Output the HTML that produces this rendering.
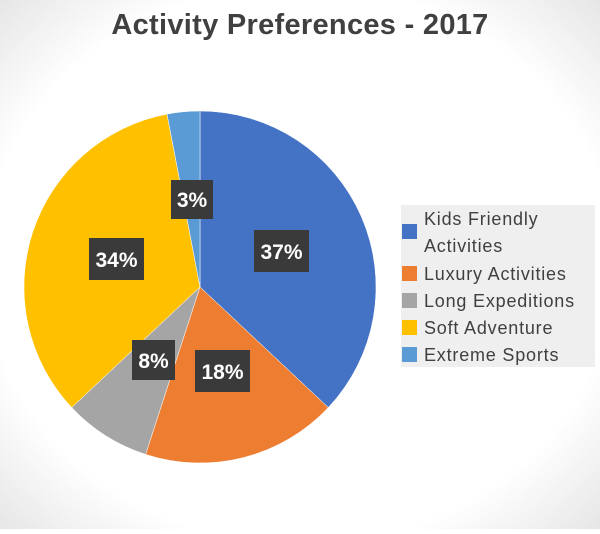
<!DOCTYPE html>
<html><head><style>
body{margin:0;width:600px;height:529px;overflow:hidden;background:#fff;font-family:"Liberation Sans",sans-serif;}
</style></head><body>
<svg width="600" height="529" xmlns="http://www.w3.org/2000/svg">
<defs><radialGradient id="bg" cx="50%" cy="50%" r="75%"><stop offset="0.7" stop-color="#ffffff"/><stop offset="1" stop-color="#e0e0e0"/></radialGradient></defs>
<rect width="600" height="529" fill="url(#bg)"/>
<text x="300" y="34" text-anchor="middle" font-size="29" font-weight="bold" fill="#404040" letter-spacing="0.3">Activity Preferences - 2017</text>
<g stroke="#fff" stroke-width="0.5">
<path d="M200,287 L200,111 A176,176 0 0 1 328.3,407.5 Z" fill="#4472c4"/>
<path d="M200,287 L328.3,407.5 A176,176 0 0 1 145.6,454.4 Z" fill="#ed7d31"/>
<path d="M200,287 L145.6,454.4 A176,176 0 0 1 71.7,407.5 Z" fill="#a5a5a5"/>
<path d="M200,287 L71.7,407.5 A176,176 0 0 1 167,114.1 Z" fill="#ffc000"/>
<path d="M200,287 L167,114.1 A176,176 0 0 1 200,111 Z" fill="#5b9bd5"/>
</g>
<g font-size="21" font-weight="bold" fill="#fff" text-anchor="middle">
<rect x="171" y="180" width="42" height="39" fill="#3a3a3a"/><text x="192" y="207">3%</text>
<rect x="254" y="230" width="55" height="42" fill="#3a3a3a"/><text x="281.5" y="259">37%</text>
<rect x="89" y="238" width="55" height="42" fill="#3a3a3a"/><text x="116.5" y="267">34%</text>
<rect x="132" y="340" width="43" height="40" fill="#3a3a3a"/><text x="153.5" y="368">8%</text>
<rect x="195" y="350" width="55" height="42" fill="#3a3a3a"/><text x="222.5" y="379">18%</text>
</g>
<rect x="401" y="205" width="194" height="162" fill="#efefef"/>
<g font-size="18" fill="#404040" letter-spacing="0.8">
<rect x="402" y="224" width="15" height="15" fill="#4472c4"/><text x="424" y="225">Kids Friendly</text><text x="424" y="252">Activities</text>
<rect x="402" y="266" width="15" height="15" fill="#ed7d31"/><text x="424" y="280">Luxury Activities</text>
<rect x="402" y="293" width="15" height="15" fill="#a5a5a5"/><text x="424" y="307">Long Expeditions</text>
<rect x="402" y="320" width="15" height="15" fill="#ffc000"/><text x="424" y="334">Soft Adventure</text>
<rect x="402" y="347" width="15" height="15" fill="#5b9bd5"/><text x="424" y="361">Extreme Sports</text>
</g>
</svg>
</body></html>
